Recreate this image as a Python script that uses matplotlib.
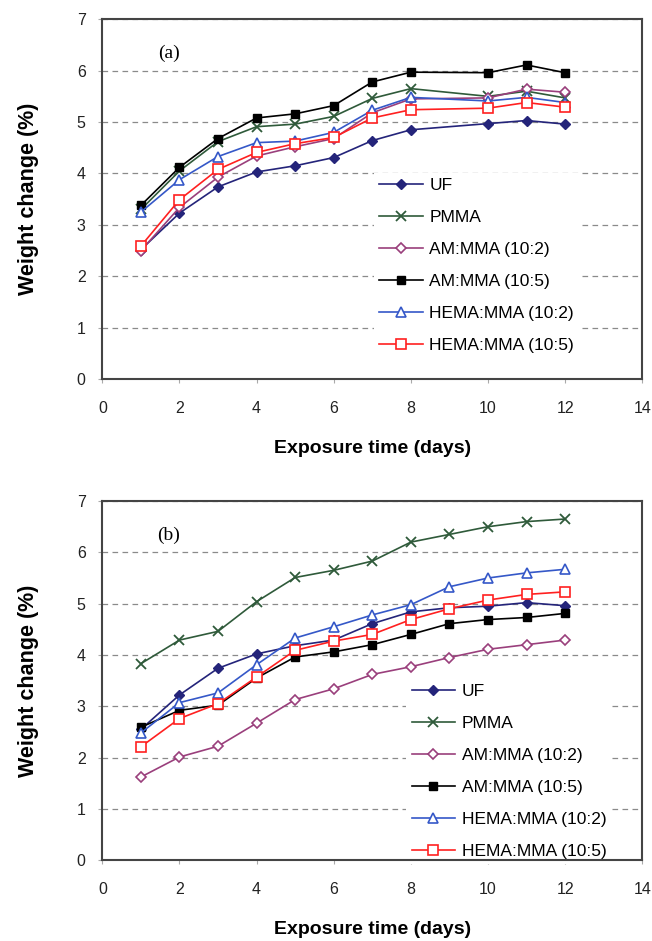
import numpy as np
import matplotlib
matplotlib.use("Agg")
import matplotlib.pyplot as plt

plt.rcParams['font.family'] = ['Liberation Sans', 'DejaVu Sans']

labels = ["UF", "PMMA", "AM:MMA (10:2)", "AM:MMA (10:5)", "HEMA:MMA (10:2)", "HEMA:MMA (10:5)"]

# panel (a): no reading at day 9
days_a = [1, 2, 3, 4, 5, 6, 7, 8, 10, 11, 12]
uf_a = [2.52, 3.23, 3.74, 4.03, 4.15, 4.31, 4.64, 4.85, 4.97, 5.03, 4.96]
pmma_a = [3.3, 4.05, 4.62, 4.91, 4.96, 5.11, 5.46, 5.65, 5.5, 5.6, 5.47]
am2_a = [2.5, 3.34, 3.93, 4.34, 4.52, 4.68, 5.18, 5.45, 5.47, 5.64, 5.58]
am5_a = [3.38, 4.12, 4.68, 5.08, 5.16, 5.32, 5.78, 5.97, 5.96, 6.11, 5.96]
hema2_a = [3.25, 3.88, 4.33, 4.6, 4.63, 4.8, 5.23, 5.48, 5.41, 5.48, 5.38]
hema5_a = [2.59, 3.49, 4.08, 4.41, 4.58, 4.7, 5.08, 5.24, 5.27, 5.38, 5.29]

# panel (b)
days_b = [1, 2, 3, 4, 5, 6, 7, 8, 9, 10, 11, 12]
uf_b = [2.55, 3.22, 3.74, 4.02, 4.18, 4.29, 4.61, 4.84, 4.92, 4.95, 5.02, 4.96]
pmma_b = [3.83, 4.29, 4.46, 5.04, 5.51, 5.65, 5.83, 6.2, 6.35, 6.5, 6.6, 6.65]
am2_b = [1.62, 2.01, 2.22, 2.67, 3.13, 3.34, 3.62, 3.77, 3.95, 4.11, 4.2, 4.29]
am5_b = [2.59, 2.92, 3.02, 3.55, 3.96, 4.06, 4.2, 4.4, 4.61, 4.69, 4.73, 4.81]
hema2_b = [2.48, 3.07, 3.26, 3.81, 4.33, 4.55, 4.78, 4.98, 5.33, 5.5, 5.6, 5.67]
hema5_b = [2.21, 2.76, 3.05, 3.57, 4.09, 4.27, 4.4, 4.69, 4.9, 5.07, 5.18, 5.23]

styles = [
    dict(color='#24247a', marker='D', mfc='#24247a', ms=5.5),
    dict(color='#2f5a3a', marker='x', mfc='none', ms=7, mew=1.3),
    dict(color='#9a3f7c', marker='D', mfc='white', ms=5.5, mew=1.2),
    dict(color='black', marker='s', mfc='black', ms=6),
    dict(color='#3558c8', marker='^', mfc='white', ms=7, mew=1.2),
    dict(color='#ff2020', marker='s', mfc='white', ms=6.5, mew=1.2),
]

fig = plt.figure(figsize=(6.52, 9.41), dpi=100)
ax_a = fig.add_axes([0.157, 0.597, 0.828, 0.3826])
ax_b = fig.add_axes([0.157, 0.086, 0.828, 0.3815])

panels = [
    (ax_a, days_a, [uf_a, pmma_a, am2_a, am5_a, hema2_a, hema5_a], "(a)", (0.503, 0.316)),
    (ax_b, days_b, [uf_b, pmma_b, am2_b, am5_b, hema2_b, hema5_b], "(b)", (0.563, 0.248)),
]

for ax, days, series, tag, anchor in panels:
    for vals, lab, st in zip(series, labels, styles):
        ax.plot(days, vals, lw=1.2, label=lab, **st)
    ax.set_xlim(0, 14)
    ax.set_ylim(0, 7)
    ax.set_xticks(range(0, 15, 2))
    ax.set_yticks(range(0, 8))
    ax.yaxis.grid(True, linestyle=(0, (4.5, 3.5)), color='#8a8a8a', lw=0.9)
    ax.set_axisbelow(True)
    for s in ax.spines.values():
        s.set_color('#444444')
        s.set_linewidth(1.5)
        s.set_zorder(6)
    ax.tick_params(axis='x', direction='out', length=3, color='#aaaaaa', pad=13,
                   labelsize=11.5, labelcolor='#222222')
    ax.tick_params(axis='y', direction='out', length=3, color='#aaaaaa', pad=9,
                   labelsize=11.5, labelcolor='#222222')
    ax.set_xlabel("Exposure time (days)", fontsize=14, fontweight='bold', labelpad=17)
    ax.set_ylabel("Weight change (%)", fontsize=15.5, fontweight='bold', labelpad=27)
    ax.text(1.72, 6.33, tag, fontsize=14, family=['Liberation Serif', 'DejaVu Serif'],
            ha='center', va='center')
    leg = ax.legend(loc='center left', bbox_to_anchor=anchor, fontsize=12.5,
                    frameon=True, fancybox=False, borderaxespad=0, borderpad=0.3,
                    labelspacing=0.97, handlelength=2.5, handletextpad=0.4)
    leg.get_frame().set_facecolor('white')
    leg.get_frame().set_edgecolor('none')
    leg.get_frame().set_alpha(1)
    leg.set_zorder(5)

fig.savefig("out.png", dpi=100)
